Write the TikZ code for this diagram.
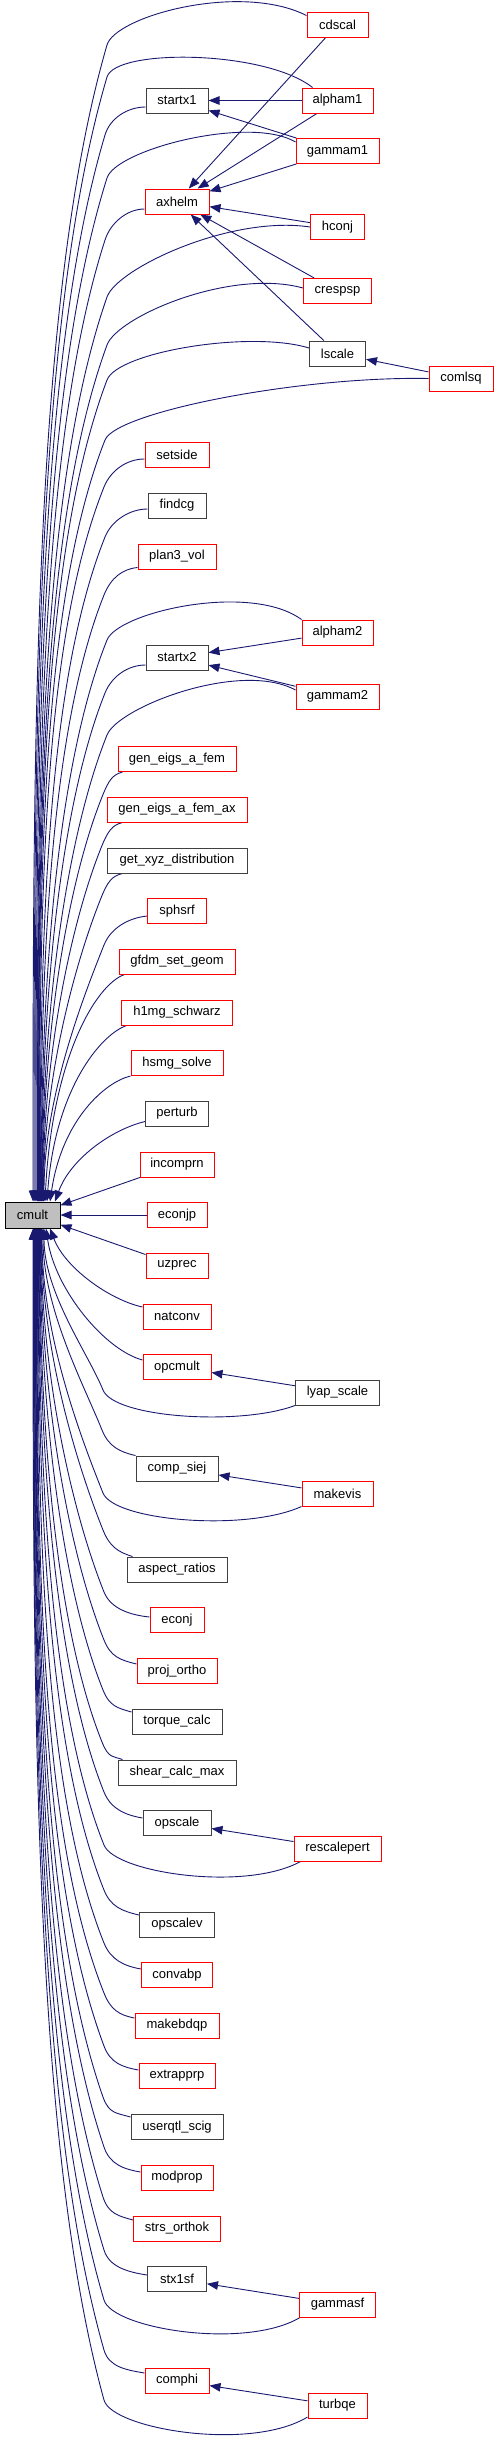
\documentclass[tikz,border=0pt]{standalone}
\usepackage{fontspec}
\setmainfont{Liberation Sans}
\usetikzlibrary{arrows.meta,calc,backgrounds}
\definecolor{edgeblue}{RGB}{25,25,112}
\definecolor{boxgray}{RGB}{191,191,191}
\definecolor{dkgray}{RGB}{64,64,64}
\tikzset{
 nbox/.style={rectangle, draw, line width=1pt, fill=white, inner sep=0pt, minimum height=25, font=\fontsize{13}{15}\selectfont, text=black},
 rbox/.style={nbox, draw=red},
 kbox/.style={nbox, draw=dkgray},
 root/.style={nbox, draw=black, fill=boxgray, minimum height=26},
 cedge/.style={draw=edgeblue, line width=0.9pt, -{Triangle[length=11pt,width=8.5pt]}},
}
% #1 start, #2 C1, #3 Kx, #4 Ky, #5 Ex, #6 sign (+1 above, -1 below), #7 anchor, #8 dist
\newcommand\cmedge[8]{%
 \pgfmathsetmacro\cmEy{1215-13*(#6)}%
 \pgfmathsetmacro\cmS{abs(\cmEy-#4)}%
 \pgfmathsetmacro\cmH{0.22*\cmS}%
 \pgfmathsetmacro\cmCx{max(#5,#3-0.4*\cmH)}%
 \pgfmathsetmacro\cmCy{#4+(#6)*\cmH}%
 \pgfmathsetmacro\cmL{veclen((#3-\cmCx)/10,(#4-\cmCy)/10)*10}%
 \pgfmathsetmacro\cmAx{#3+#8*(#3-\cmCx)/\cmL}%
 \pgfmathsetmacro\cmAy{#4+#8*(#4-\cmCy)/\cmL}%
 \pgfmathsetmacro\cmDy{\cmEy-(#6)*0.4*\cmS}%
 \pgfmathsetmacro\cmSh{#5-32.5}%
 \draw[cedge] #1 .. controls #2 and (\cmAx,\cmAy) .. (#3,#4) .. controls (\cmCx,\cmCy) and (#5,\cmDy) .. ([xshift=\cmSh pt]cmult.#7);%
}
\begin{document}
\begin{tikzpicture}[x=1pt,y=-1pt]
\useasboundingbox (0,0) rectangle (499,2442);
\node[rbox,minimum width=61] (cdscal) at (337.5,24.5) {cdscal};
\node[kbox,minimum width=62] (startx1) at (177,100.5) {startx1};
\node[rbox,minimum width=71] (alpham1) at (337.5,100.5) {alpham1};
\node[rbox,minimum width=83] (gammam1) at (337.5,151) {gammam1};
\node[rbox,minimum width=64] (axhelm) at (177,201.5) {axhelm};
\node[rbox,minimum width=54] (hconj) at (337.5,227) {hconj};
\node[rbox,minimum width=68] (crespsp) at (337.5,291) {crespsp};
\node[kbox,minimum width=56] (lscale) at (337.5,353.5) {lscale};
\node[rbox,minimum width=64] (comlsq) at (461,378.5) {comlsq};
\node[rbox,minimum width=64] (setside) at (177,455) {setside};
\node[kbox,minimum width=58] (findcg) at (177,505.5) {findcg};
\node[rbox,minimum width=78] (plan3vol) at (177,556.5) {plan3\_vol};
\node[rbox,minimum width=71] (alpham2) at (337.5,632.5) {alpham2};
\node[kbox,minimum width=62] (startx2) at (177,657.5) {startx2};
\node[rbox,minimum width=83] (gammam2) at (337.5,696.5) {gammam2};
\node[rbox,minimum width=118] (geneigs) at (177,759) {gen\_eigs\_a\_fem};
\node[rbox,minimum width=140] (geneigsax) at (177,809.5) {gen\_eigs\_a\_fem\_ax};
\node[kbox,minimum width=140] (getxyz) at (177,860.5) {get\_xyz\_distribution};
\node[rbox,minimum width=59] (sphsrf) at (177,911) {sphsrf};
\node[rbox,minimum width=116] (gfdm) at (177,961.5) {gfdm\_set\_geom};
\node[rbox,minimum width=111] (honemg) at (177,1012.5) {h1mg\_schwarz};
\node[rbox,minimum width=92] (hsmg) at (177,1063) {hsmg\_solve};
\node[kbox,minimum width=63] (perturb) at (177,1113.5) {perturb};
\node[rbox,minimum width=74] (incomprn) at (177,1164.5) {incomprn};
\node[root,minimum width=55] (cmult) at (32.5,1215) {cmult};
\node[rbox,minimum width=60] (econjp) at (177,1215) {econjp};
\node[rbox,minimum width=62] (uzprec) at (177,1265.5) {uzprec};
\node[rbox,minimum width=68] (natconv) at (177,1316.5) {natconv};
\node[rbox,minimum width=68] (opcmult) at (177,1367) {opcmult};
\node[kbox,minimum width=84] (lyapscale) at (337.5,1392.5) {lyap\_scale};
\node[kbox,minimum width=82] (compsiej) at (177,1468.5) {comp\_siej};
\node[rbox,minimum width=71] (makevis) at (337.5,1493.5) {makevis};
\node[kbox,minimum width=100] (aspect) at (177,1569.5) {aspect\_ratios};
\node[rbox,minimum width=54] (econj) at (177,1620) {econj};
\node[rbox,minimum width=80] (projortho) at (177,1671) {proj\_ortho};
\node[kbox,minimum width=90] (torque) at (177,1721.5) {torque\_calc};
\node[kbox,minimum width=118] (shear) at (177,1772.5) {shear\_calc\_max};
\node[kbox,minimum width=68] (opscale) at (177,1823) {opscale};
\node[rbox,minimum width=87] (rescalepert) at (337.5,1848.5) {rescalepert};
\node[kbox,minimum width=75] (opscalev) at (177,1924.5) {opscalev};
\node[rbox,minimum width=71] (convabp) at (177,1975) {convabp};
\node[rbox,minimum width=84] (makebdqp) at (177,2025.5) {makebdqp};
\node[rbox,minimum width=76] (extrapprp) at (177,2076) {extrapprp};
\node[kbox,minimum width=92] (userqtl) at (177,2127) {userqtl\_scig};
\node[rbox,minimum width=72] (modprop) at (177,2177.5) {modprop};
\node[rbox,minimum width=87] (strs) at (177,2228.5) {strs\_orthok};
\node[kbox,minimum width=59] (stxsf) at (177,2279) {stx1sf};
\node[rbox,minimum width=76] (gammasf) at (337.5,2304.5) {gammasf};
\node[rbox,minimum width=64] (comphi) at (177,2380.5) {comphi};
\node[rbox,minimum width=59] (turbqe) at (337.5,2405.5) {turbqe};

\begin{pgfonlayer}{background}
% edges between callers
\draw[cedge] (alpham1) -- (startx1);
\draw[cedge] (gammam1) -- (startx1);
\draw[cedge] (cdscal) -- (axhelm);
\draw[cedge] (alpham1) -- (axhelm);
\draw[cedge] (gammam1) -- (axhelm);
\draw[cedge] (hconj) -- (axhelm);
\draw[cedge] (crespsp) -- (axhelm);
\draw[cedge] (lscale) -- (axhelm);
\draw[cedge] (comlsq) -- (lscale);
\draw[cedge] (alpham2) -- (startx2);
\draw[cedge] (gammam2) -- (startx2);
\draw[cedge] (lyapscale) -- (opcmult);
\draw[cedge] (makevis) -- (compsiej);
\draw[cedge] (rescalepert) -- (opscale);
\draw[cedge] (gammasf) -- (stxsf);
\draw[cedge] (turbqe) -- (comphi);
% upper edges into cmult
\cmedge{($(cdscal.north west)+(0,4)$)}{(240,-18)}{107}{45}{33}{1}{north}{30}
\cmedge{($(alpham1.north west)+(11,0)$)}{(265,50)}{107}{77}{34}{1}{north}{30}
\cmedge{($(startx1.west)+(0,6.5)$)}{(128,107)}{105}{135}{35}{1}{north}{18}
\cmedge{($(gammam1.west)+(0,-9)$)}{(250,115)}{107}{178}{36}{1}{north}{30}
\cmedge{($(axhelm.west)+(0,7.5)$)}{(127,209)}{105}{240}{37}{1}{north}{18}
\cmedge{(hconj.west)}{(230,215)}{107}{297}{37.5}{1}{north}{30}
\cmedge{($(crespsp.west)+(0,-3)$)}{(230,268)}{107}{345}{38}{1}{north}{30}
\cmedge{($(lscale.west)+(0,-5.5)$)}{(250,330)}{107}{380}{38.5}{1}{north}{30}
\cmedge{(comlsq.west)}{(300,376)}{105}{440}{39}{1}{north}{30}
\cmedge{($(setside.west)+(0,4)$)}{(127,459)}{104}{487}{39.5}{1}{north}{18}
\cmedge{($(findcg.west)+(0,3.5)$)}{(130,509)}{105}{537}{40}{1}{north}{18}
\cmedge{($(plan3vol.south west)+(0,-2)$)}{(122,569)}{104}{595}{40.5}{1}{north}{18}
\cmedge{(alpham2.north west)}{(250,582)}{107}{640}{41}{1}{north}{30}
\cmedge{($(startx2.west)+(0,7.5)$)}{(128,665)}{105}{693}{41.5}{1}{north}{18}
\cmedge{($(gammam2.west)+(0,-6.5)$)}{(240,660)}{107}{735}{42}{1}{north}{30}
\cmedge{($(geneigs.south west)+(5,0)$)}{(112,775)}{102}{797}{42.5}{1}{north}{18}
\cmedge{($(geneigsax.south west)+(16,0)$)}{(112,825)}{101}{848}{43}{1}{north}{18}
\cmedge{($(getxyz.south west)+(16,0)$)}{(112,876)}{101}{898}{43.5}{1}{north}{18}
\cmedge{($(sphsrf.west)+(0,5)$)}{(128,918)}{104}{945}{44}{1}{north}{18}
\draw[cedge] ($(gfdm.south west)+(6,0)$) .. controls (95,985) and (52,1060) .. ([xshift=12.5pt]cmult.north);
\draw[cedge] ($(honemg.south west)+(5.5,0)$) .. controls (100,1035) and (55,1090) .. ([xshift=14.5pt]cmult.north);
\draw[cedge] (hsmg.south west) .. controls (105,1082) and (62,1120) .. ([xshift=17.5pt]cmult.north);
\draw[cedge] ($(perturb.west)+(0,8)$) .. controls (110,1130) and (70,1160) .. ([xshift=22.5pt]cmult.north);
\draw[cedge] (incomprn) -- (cmult);
\draw[cedge] (econjp) -- (cmult);
% lower edges into cmult
\draw[cedge] (uzprec) -- (cmult);
\draw[cedge] ($(natconv.west)+(0,-9.5)$) .. controls (110,1300) and (65,1268) .. ([xshift=17.5pt]cmult.south);
\draw[cedge] ($(opcmult.west)+(0,-7)$) .. controls (105,1350) and (55,1290) .. ([xshift=13.5pt]cmult.south);
\cmedge{(lyapscale.south west)}{(240,1426)}{103}{1390}{44}{-1}{south}{30}
\cmedge{(compsiej.north west)}{(120,1452)}{102}{1430}{43}{-1}{south}{18}
\cmedge{(makevis.south west)}{(245,1532)}{103}{1493}{42}{-1}{south}{30}
\cmedge{($(aspect.north west)+(6,0)$)}{(118,1552)}{103}{1530}{41.5}{-1}{south}{18}
\cmedge{($(econj.west)+(0,-3)$)}{(130,1615)}{104}{1592}{41}{-1}{south}{18}
\cmedge{($(projortho.west)+(0,-7)$)}{(120,1660)}{104}{1640}{40.5}{-1}{south}{18}
\cmedge{($(torque.west)+(0,-9.5)$)}{(118,1708)}{103}{1690}{40}{-1}{south}{18}
\cmedge{($(shear.north west)+(5,0)$)}{(113,1756)}{102}{1742}{39.5}{-1}{south}{18}
\cmedge{($(opscale.west)+(0,-5)$)}{(125,1815)}{104}{1792}{39}{-1}{south}{18}
\cmedge{($(rescalepert.south west)+(7,0)$)}{(245,1892)}{104}{1845}{38.5}{-1}{south}{30}
\cmedge{($(opscalev.west)+(0,-9.5)$)}{(122,1911)}{104}{1890}{38}{-1}{south}{18}
\cmedge{($(convabp.west)+(0,-6)$)}{(124,1966)}{104}{1943}{37.5}{-1}{south}{18}
\cmedge{($(makebdqp.west)+(0,-7.5)$)}{(119,2015)}{104}{1993}{37}{-1}{south}{18}
\cmedge{($(extrapprp.west)+(0,-6)$)}{(122,2067)}{104}{2046}{36.5}{-1}{south}{18}
\cmedge{($(userqtl.west)+(0,-10)$)}{(117,2113)}{103}{2097}{36}{-1}{south}{18}
\cmedge{($(modprop.west)+(0,-5.5)$)}{(123,2169)}{104}{2147}{35.5}{-1}{south}{18}
\cmedge{($(strs.west)+(0,-8.5)$)}{(119,2216)}{103}{2197}{35}{-1}{south}{18}
\cmedge{($(stxsf.west)+(0,-4)$)}{(128,2272)}{104}{2250}{34.5}{-1}{south}{18}
\cmedge{($(gammasf.south west)+(1,0)$)}{(245,2350)}{104}{2300}{34}{-1}{south}{30}
\cmedge{($(comphi.west)+(0,-7.5)$)}{(127,2370)}{104}{2350}{33.5}{-1}{south}{18}
\cmedge{($(turbqe.south west)+(0,-1.5)$)}{(250,2452)}{104}{2400}{33}{-1}{south}{30}
\end{pgfonlayer}
\end{tikzpicture}
\end{document}
